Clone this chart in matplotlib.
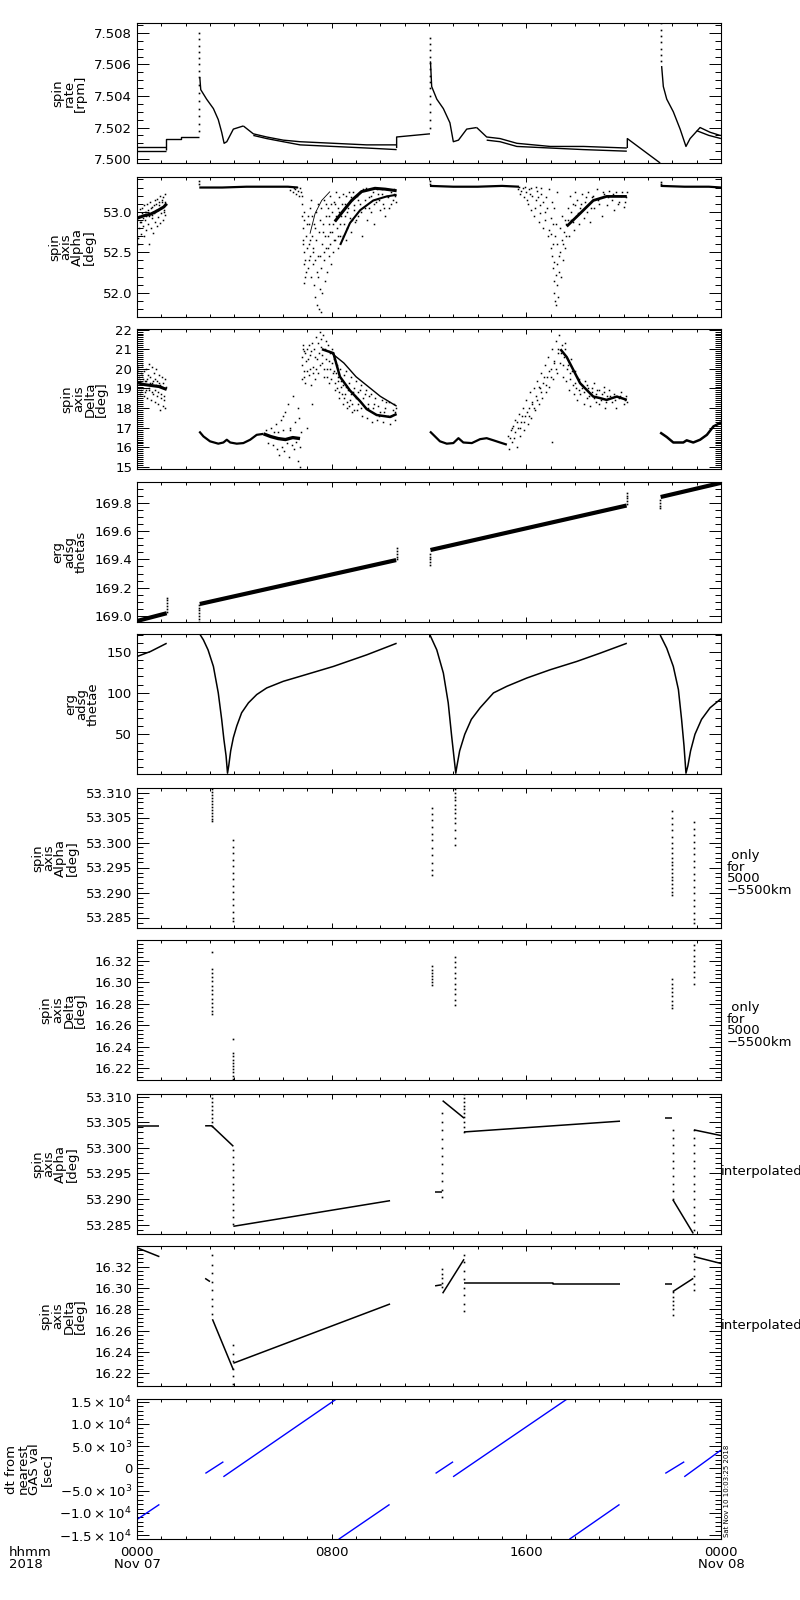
import numpy as np
import matplotlib
matplotlib.use('Agg')
import matplotlib.pyplot as plt
from matplotlib.ticker import MultipleLocator, FixedLocator, FormatStrFormatter, FuncFormatter

####################################################
### Data (time in hours from 0000 Nov 07)

# --- spin rate [rpm]
rate_t0 = [0.0, 1.18]
rate_v0a = [7.50078, 7.50078]
rate_v0b = [7.50052, 7.50052]
rate_t1 = [1.18, 1.18, 1.80, 1.80, 2.56]
rate_v1 = [7.5006, 7.5013, 7.5013, 7.5014, 7.5014]
rate_spk1_v = [7.5080, 7.5076, 7.5072, 7.5068, 7.5064, 7.5060, 7.5056, 7.5052, 7.5047,
               7.5042, 7.5037, 7.5032, 7.5027, 7.5022, 7.5018]
rate_t2 = [2.58, 2.62, 2.70, 2.86, 3.14, 3.34, 3.48, 3.58, 3.69, 3.96, 4.37]
rate_v2 = [7.5052, 7.5044, 7.5042, 7.5038, 7.5032, 7.5025, 7.5017, 7.5010, 7.5011, 7.5019, 7.5021]
rate_t2a = [4.37, 4.78, 5.33, 6.01, 6.70, 8.07, 9.44, 10.67]
rate_v2a = [7.5021, 7.5016, 7.5014, 7.5012, 7.5011, 7.5010, 7.5009, 7.5009]
rate_t2b = [4.78, 5.33, 6.01, 6.70, 8.07, 9.44, 10.67]
rate_v2b = [7.5015, 7.5013, 7.5011, 7.5009, 7.5008, 7.5007, 7.5006]
rate_t3 = [10.67, 10.67, 12.04]
rate_v3 = [7.5007, 7.5014, 7.5016]
rate_spk2_v = [7.5077, 7.5073, 7.5069, 7.5065, 7.5061, 7.5057, 7.5053, 7.5049, 7.5045,
               7.5040, 7.5035, 7.5030, 7.5025, 7.5020]
rate_t4 = [12.06, 12.11, 12.32, 12.59, 12.86, 13.0, 13.21, 13.55, 13.96]
rate_v4 = [7.5062, 7.5046, 7.5038, 7.5032, 7.5023, 7.5011, 7.5012, 7.5019, 7.5020]
rate_t4a = [13.96, 14.37, 14.92, 15.61, 16.98, 18.35, 20.13]
rate_v4a = [7.5020, 7.5014, 7.5013, 7.5010, 7.5008, 7.5008, 7.5007]
rate_t4b = [14.37, 14.92, 15.61, 16.98, 18.35, 20.13]
rate_v4b = [7.5012, 7.5011, 7.5008, 7.5007, 7.5006, 7.5005]
rate_t5 = [20.15, 20.15, 21.50]
rate_v5 = [7.5007, 7.5013, 7.49975]
rate_spk3_v = [7.5086, 7.5082, 7.5078, 7.5074, 7.5070, 7.5066, 7.5062]
rate_t6 = [21.56, 21.63, 21.77, 22.04, 22.32, 22.56, 22.73, 23.14, 23.55, 23.96, 24.0]
rate_v6 = [7.5059, 7.5046, 7.5038, 7.5030, 7.5019, 7.5008, 7.5013, 7.5020, 7.5017, 7.5015, 7.5015]
rate_t6b = [23.0, 23.5, 24.0]
rate_v6b = [7.5018, 7.5015, 7.5013]

# --- spin axis Alpha [deg]
alp_band0_t = [0.0, 0.27, 0.55, 0.82, 1.10, 1.22]
alp_band0_v = [52.92, 52.95, 52.97, 53.01, 53.06, 53.10]
alp_cloud0_t = [0.03, 0.06, 0.09, 0.12, 0.15, 0.18, 0.21, 0.24, 0.27, 0.30, 0.33, 0.36, 0.39,
                0.42, 0.45, 0.48, 0.51, 0.54, 0.57, 0.60, 0.63, 0.66, 0.69, 0.72, 0.75, 0.78,
                0.81, 0.84, 0.87, 0.90, 0.93, 0.96, 0.99, 1.02, 1.05, 1.08, 1.11, 1.14, 1.17, 1.20]
alp_cloud0_v = [52.68, 52.60, 52.80, 53.03, 52.72, 52.88, 53.05, 52.83, 52.70, 53.08, 52.90, 52.78,
                53.00, 53.10, 52.85, 52.60, 52.95, 53.12, 52.80, 52.92, 53.06, 52.74, 52.98, 53.14,
                52.88, 53.02, 52.82, 53.16, 52.94, 53.08, 52.86, 53.20, 52.98, 53.12, 52.90, 53.18,
                53.02, 53.22, 52.96, 53.10]
alp_cloud0_extra = [(0.01, 52.90), (0.07, 52.95), (0.14, 52.88), (0.20, 52.98), (0.26, 52.92),
                    (0.32, 53.00), (0.38, 52.95), (0.44, 53.02), (0.50, 52.98), (0.56, 53.05),
                    (0.62, 52.96), (0.68, 53.08), (0.74, 53.00), (0.80, 53.10), (0.86, 53.02),
                    (0.92, 53.12), (0.98, 53.05), (1.04, 53.15), (1.10, 53.00), (1.16, 53.12)]
alp_flat1_t = [2.56, 3.5, 4.5, 5.5, 6.2, 6.6]
alp_flat1_v = [53.30, 53.30, 53.31, 53.31, 53.31, 53.30]
alp_flat2_t = [12.04, 13.0, 14.0, 15.0, 15.7]
alp_flat2_v = [53.32, 53.31, 53.31, 53.32, 53.31]
alp_flat3_t = [21.52, 22.5, 23.5, 24.0]
alp_flat3_v = [53.32, 53.31, 53.31, 53.30]
alp_cloud1_t = [6.30, 6.40, 6.50, 6.55, 6.60, 6.65, 6.70, 6.75, 6.45, 6.58,
                6.78, 6.80, 6.82, 6.84, 6.86, 6.88, 6.90, 6.85, 6.92, 6.95, 6.98, 6.80, 6.88,
                7.02, 7.05, 7.08, 7.10, 7.12, 7.15, 7.18, 7.20, 7.22, 7.25, 7.28, 7.30, 7.32,
                7.35, 7.38, 7.40, 7.42, 7.45, 7.48, 7.50, 7.52, 7.55, 7.58, 7.60,
                7.62, 7.65, 7.68, 7.70, 7.72, 7.75, 7.78, 7.80, 7.83, 7.85, 7.88, 7.90, 7.93,
                7.95, 7.98, 8.00, 8.03, 8.06, 8.09, 8.12, 8.15, 8.18,
                8.22, 8.25, 8.28, 8.32, 8.36, 8.40, 8.45, 8.50, 8.55, 8.60, 8.65, 8.70, 8.75,
                8.80, 8.85, 8.90, 8.95,
                9.05, 9.10, 9.18, 9.25, 9.30, 9.38, 9.45, 9.52, 9.60, 9.68, 9.75, 9.82, 9.90,
                9.98, 10.05, 10.12, 10.20, 10.28, 10.35, 10.42, 10.50, 10.58, 10.65]
alp_cloud1_v = [53.27, 53.25, 53.28, 53.22, 53.26, 53.20, 53.29, 53.24, 53.30, 53.31,
                53.10, 52.95, 52.80, 52.65, 52.50, 52.35, 52.20, 52.12, 52.40, 52.70, 52.55, 53.20, 52.90,
                52.30, 52.60, 52.85, 52.45, 53.05, 52.20, 52.70, 52.95, 52.35, 52.55, 52.10, 52.80, 51.95,
                52.65, 52.25, 51.85, 53.10, 52.45, 51.80, 52.05, 52.90, 51.76, 52.30, 52.60,
                52.00, 52.75, 53.15, 52.40, 52.15, 52.95, 52.55, 52.25, 53.05, 52.70, 52.45, 52.85, 53.20,
                52.60, 52.35, 53.00, 52.75, 52.50, 53.12, 52.90, 52.65, 53.25,
                52.80, 53.05, 52.55, 53.18, 52.70, 52.95, 53.22, 52.85, 53.10, 52.65, 53.00, 53.25, 52.92,
                52.75, 53.15, 53.02, 52.88,
                53.20, 52.95, 53.10, 52.70, 53.28, 53.05, 52.90, 53.18, 53.00, 53.25, 52.85, 53.12, 53.22,
                53.02, 53.28, 53.10, 52.95, 53.20, 53.05, 53.25, 53.15, 53.22, 53.12]
alp_cloud1_extra = [(6.83, 52.60), (6.87, 53.00), (6.93, 52.25), (6.97, 52.85), (7.03, 52.95),
                    (7.07, 52.40), (7.13, 52.65), (7.17, 53.15), (7.23, 52.50), (7.27, 52.85),
                    (7.33, 52.40), (7.37, 53.00), (7.43, 52.20), (7.47, 52.75), (7.53, 52.45),
                    (7.57, 53.05), (7.63, 52.85), (7.67, 52.50), (7.73, 52.70), (7.77, 53.10),
                    (7.83, 52.55), (7.87, 52.95), (7.93, 52.75), (7.97, 53.10), (8.04, 52.85),
                    (8.08, 52.65), (8.14, 53.10), (8.19, 52.95), (8.24, 52.70), (8.30, 53.00),
                    (8.34, 52.85), (8.42, 53.10), (8.48, 52.70), (8.53, 52.95), (8.58, 53.20),
                    (8.63, 52.80), (8.68, 53.05), (8.78, 53.18), (8.83, 52.90), (8.88, 53.25),
                    (8.93, 53.08), (9.02, 52.90), (9.08, 53.15), (9.15, 53.24), (9.22, 53.00),
                    (9.35, 53.15), (9.42, 53.30), (9.55, 53.05), (9.63, 53.20), (9.72, 53.10),
                    (9.88, 53.28), (9.95, 53.15), (10.08, 53.22), (10.15, 53.05), (10.25, 53.28),
                    (10.32, 53.18), (10.45, 53.10), (10.55, 53.28), (10.62, 53.20)]
alp_band1_t = [8.13, 8.50, 8.82, 9.23, 9.78, 10.20, 10.67]
alp_band1_v = [52.88, 53.02, 53.14, 53.25, 53.29, 53.28, 53.26]
alp_band2_t = [8.35, 8.75, 9.17, 9.71, 10.26, 10.67]
alp_band2_v = [52.59, 52.86, 53.02, 53.14, 53.19, 53.21]
alp_band3_t = [7.11, 7.32, 7.59, 7.93]
alp_band3_v = [52.73, 52.98, 53.14, 53.25]
alp_cloud2_t = [15.65, 15.75, 15.85, 15.92, 16.00, 16.05, 16.12, 16.18, 16.25, 16.30, 16.38, 16.45,
                16.50, 16.58, 16.62, 16.70, 16.75, 16.82, 16.88, 16.92, 17.00, 17.05, 17.10, 17.15,
                17.20, 17.25, 15.70, 15.95, 16.20, 16.40, 16.60,
                17.05, 17.10, 17.12, 17.15, 17.18, 17.22, 17.25, 17.28, 17.30, 17.35, 17.38, 17.42,
                17.45, 17.50, 17.55, 17.60, 17.00, 17.65,
                17.70, 17.75, 17.80, 17.85, 17.90, 17.95, 18.00, 18.05, 18.10, 18.15, 18.20, 18.30,
                18.35, 18.40, 18.50, 18.55, 18.60, 18.70, 18.80, 18.90, 19.00, 19.10, 19.20, 19.30,
                19.40, 19.50, 19.60, 19.70, 19.80, 19.90, 20.00, 20.10, 20.15]
alp_cloud2_v = [53.28, 53.22, 53.30, 53.18, 53.25, 53.10, 53.28, 53.02, 53.20, 52.95, 53.15, 53.26,
                52.88, 53.08, 53.22, 52.80, 53.00, 53.18, 52.70, 53.28, 52.92, 53.12, 52.60, 53.05,
                52.85, 53.25, 53.31, 53.31, 53.30, 53.31, 53.30,
                52.45, 52.30, 52.15, 52.00, 51.90, 51.85, 52.10, 52.35, 51.95, 52.25, 52.50, 52.20,
                52.65, 52.40, 52.75, 52.55, 52.72, 52.85,
                53.05, 52.70, 53.20, 52.90, 53.10, 52.78, 53.25, 52.95, 53.15, 52.85, 53.05, 53.22,
                52.92, 53.12, 53.00, 53.25, 52.88, 53.18, 53.05, 53.28, 53.10, 52.95, 53.22, 53.08,
                53.26, 53.15, 53.02, 53.24, 53.12, 53.20, 53.06, 53.18, 53.25]
alp_cloud2_extra = [(15.80, 53.26), (16.02, 53.15), (16.15, 53.22), (16.35, 53.05), (16.48, 53.18),
                    (16.55, 52.98), (16.68, 53.12), (16.78, 52.90), (16.85, 53.05), (16.95, 52.78),
                    (17.02, 52.55), (17.08, 52.85), (17.13, 52.38), (17.17, 52.70), (17.20, 52.22),
                    (17.27, 52.60), (17.33, 52.45), (17.40, 52.80), (17.48, 52.95), (17.52, 52.60),
                    (17.58, 52.90), (17.63, 52.70), (17.72, 52.90), (17.82, 53.00), (17.92, 52.88),
                    (18.02, 53.08), (18.12, 52.98), (18.25, 53.10), (18.45, 53.18), (18.65, 53.05),
                    (18.75, 53.20), (18.95, 53.15), (19.15, 53.25), (19.35, 53.18), (19.55, 53.22),
                    (19.75, 53.10), (19.95, 53.25), (20.05, 53.12)]
alp_band4_t = [17.66, 18.21, 18.75, 19.30, 20.13]
alp_band4_v = [52.82, 52.98, 53.14, 53.19, 53.19]

# --- spin axis Delta [deg]
dlt_band0_t = [0.0, 0.3, 0.6, 0.9, 1.22]
dlt_band0_v = [19.30, 19.20, 19.15, 19.10, 18.95]
dlt_cloud0_t = [0.03, 0.06, 0.09, 0.12, 0.15, 0.18, 0.21, 0.24, 0.27, 0.30, 0.33, 0.36, 0.39, 0.42,
                0.45, 0.48, 0.51, 0.54, 0.57, 0.60, 0.63, 0.66, 0.69, 0.72, 0.75, 0.78, 0.81, 0.84,
                0.87, 0.90, 0.93, 0.96, 0.99, 1.02, 1.05, 1.08, 1.11, 1.14, 1.17, 1.20]
dlt_cloud0_v = [19.9, 20.1, 19.6, 18.7, 19.8, 18.9, 20.2, 19.5, 18.6, 19.9, 18.8, 20.0, 19.4, 18.5,
                19.7, 20.25, 18.9, 19.6, 18.4, 20.1, 19.3, 18.7, 19.8, 18.3, 19.5, 20.0, 18.6, 19.4,
                18.2, 19.7, 17.9, 19.2, 18.5, 19.6, 18.1, 19.3, 18.4, 19.5, 18.0, 19.1]
dlt_cloud0_extra = [(0.01, 19.5), (0.07, 19.0), (0.13, 19.4), (0.19, 19.7), (0.25, 19.0),
                    (0.31, 19.4), (0.37, 18.9), (0.43, 19.5), (0.49, 19.0), (0.55, 19.3),
                    (0.61, 18.8), (0.67, 19.4), (0.73, 18.9), (0.79, 19.2), (0.85, 18.8),
                    (0.91, 19.3), (0.97, 18.7), (1.03, 19.1), (1.09, 18.6), (1.15, 19.0)]
dlt_curve1_t = [2.56, 2.73, 3.00, 3.34, 3.55, 3.69, 3.83, 4.10, 4.37, 4.65, 4.92, 5.20]
dlt_curve1_v = [16.81, 16.56, 16.31, 16.19, 16.25, 16.39, 16.25, 16.19, 16.22, 16.39, 16.64, 16.69]
dlt_band1_t = [5.20, 5.50, 5.80, 6.10, 6.40, 6.70]
dlt_band1_v = [16.69, 16.55, 16.45, 16.40, 16.50, 16.45]
dlt_cloud1_t = [5.30, 5.40, 5.50, 5.60, 5.70, 5.75, 5.80, 5.85, 5.90, 5.95, 6.00, 6.05, 6.10, 6.15,
                6.20, 6.25, 6.30, 6.35, 6.40, 6.45, 6.50, 6.55, 6.60, 6.62, 6.65, 6.68, 6.70, 6.72,
                5.65, 6.00, 6.30]
dlt_cloud1_v = [16.9, 16.2, 17.0, 16.1, 17.2, 15.9, 16.8, 15.6, 17.4, 16.0, 17.6, 15.8, 17.8, 16.2,
                18.2, 15.5, 17.0, 16.1, 18.6, 15.9, 17.3, 16.3, 18.0, 15.3, 17.5, 16.0, 15.0, 16.8,
                16.8, 16.9, 16.9]
dlt_cloud2_t = [6.78, 6.80, 6.82, 6.85, 6.88, 6.90, 6.95, 7.00, 7.05, 7.10, 7.15, 7.20, 7.25, 7.30,
                7.35, 7.40, 7.45, 7.50, 7.55, 7.60, 7.65, 7.70, 7.75, 7.80, 7.85, 7.90, 7.95, 8.00,
                8.05, 8.10, 8.15, 8.20, 8.25, 8.30, 8.35, 8.40, 8.45, 8.50, 8.55, 8.60, 8.65, 8.70,
                8.75, 8.80, 8.85, 8.90, 8.95, 9.00, 9.05, 9.10, 9.20, 9.25, 9.30, 9.40, 9.45, 9.50,
                9.60, 9.65, 9.70, 9.80, 9.85, 9.90, 10.00, 10.05, 10.10, 10.20, 10.30, 10.35, 10.40,
                10.50, 10.55, 10.60, 10.65, 7.20, 7.00]
dlt_cloud2_v = [19.5, 20.6, 21.2, 19.9, 20.9, 19.3, 20.4, 21.0, 19.7, 20.7, 19.2, 21.3, 20.1, 19.5,
                21.6, 20.5, 19.8, 21.9, 21.1, 20.3, 21.7, 19.6, 21.4, 20.0, 21.2, 19.3, 20.8, 21.0,
                19.8, 20.5, 18.9, 20.2, 19.4, 18.5, 20.0, 19.1, 18.2, 19.7, 18.7, 19.9, 18.0, 19.3,
                18.4, 19.6, 17.8, 19.0, 18.6, 19.4, 17.9, 18.8, 19.2, 17.6, 18.5, 18.9, 17.5, 18.2,
                18.7, 17.3, 18.0, 18.5, 17.4, 18.1, 17.8, 18.4, 17.3, 18.0, 17.6, 18.3, 17.2,
                17.9, 18.2, 17.4, 18.0, 18.2, 17.0]
dlt_cloud2_extra = [(6.79, 20.2), (6.84, 21.0), (6.87, 19.6), (6.92, 20.8), (6.97, 19.9),
                    (7.02, 20.5), (7.07, 21.2), (7.12, 20.0), (7.17, 20.9), (7.22, 19.8),
                    (7.27, 21.0), (7.32, 20.6), (7.37, 20.0), (7.42, 21.3), (7.47, 20.8),
                    (7.52, 20.2), (7.57, 21.5), (7.62, 20.7), (7.67, 20.0), (7.72, 21.0),
                    (7.77, 20.5), (7.82, 19.6), (7.87, 20.4), (7.92, 20.0), (7.97, 19.5),
                    (8.02, 20.3), (8.08, 19.9), (8.12, 19.3), (8.18, 19.8), (8.22, 19.0),
                    (8.28, 19.6), (8.32, 18.8), (8.38, 19.4), (8.42, 18.7), (8.48, 19.2),
                    (8.52, 18.5), (8.58, 19.1), (8.62, 18.3), (8.68, 18.9), (8.72, 18.1),
                    (8.78, 18.7), (8.82, 18.2), (8.88, 18.8), (8.92, 17.9), (8.98, 18.5),
                    (9.08, 18.2), (9.15, 18.9), (9.22, 18.0), (9.35, 18.7), (9.48, 18.0),
                    (9.55, 18.6), (9.75, 18.2), (9.95, 17.6), (10.15, 17.8), (10.25, 18.3),
                    (10.45, 17.6), (10.62, 17.8)]
dlt_bandA_t = [7.60, 8.07, 8.34, 8.75, 9.17, 9.44, 9.85, 10.40, 10.67]
dlt_bandA_v = [21.0, 20.8, 19.6, 18.9, 18.35, 17.95, 17.65, 17.55, 17.70]
dlt_bandB_t = [7.90, 8.50, 9.00, 9.50, 10.00, 10.67]
dlt_bandB_v = [20.9, 20.3, 19.6, 19.1, 18.6, 18.1]
dlt_curve2_t = [12.04, 12.18, 12.45, 12.73, 13.00, 13.21, 13.41, 13.76, 14.10, 14.37, 14.65, 14.92, 15.20]
dlt_curve2_v = [16.81, 16.64, 16.31, 16.19, 16.22, 16.47, 16.25, 16.22, 16.42, 16.47, 16.36, 16.25, 16.14]
dlt_cloud3_t = [15.25, 15.30, 15.35, 15.40, 15.45, 15.50, 15.55, 15.60, 15.65, 15.70, 15.75, 15.80,
                15.85, 15.90, 15.95, 16.00, 16.05, 16.10, 16.15, 16.20, 16.25, 16.30, 16.35, 16.40,
                16.45, 16.50, 16.55, 16.60, 16.65, 16.70, 16.75, 16.80, 16.85, 16.90, 16.95, 17.00,
                17.05, 17.10, 17.15, 17.20, 17.25, 17.30, 17.35, 17.40, 17.45, 17.50, 17.55, 17.60,
                17.65, 17.70, 17.75, 17.80, 17.85, 17.90, 17.95, 18.00, 18.05, 18.10, 18.15, 18.20,
                18.30, 18.35, 18.40, 18.50, 18.55, 18.60, 18.70, 18.80, 18.85, 18.90, 19.00, 19.10,
                19.20, 19.25, 19.30, 19.40, 19.50, 19.60, 19.70, 19.80, 19.90, 20.00, 20.10, 20.15,
                17.05]
dlt_cloud3_v = [16.6, 15.9, 16.9, 16.3, 17.1, 16.5, 17.4, 16.0, 17.0, 17.7, 16.6, 17.3,
                18.0, 16.9, 17.6, 18.4, 17.2, 18.0, 18.8, 17.5, 18.3, 19.0, 17.9, 18.6,
                19.4, 18.2, 19.0, 19.8, 18.5, 19.3, 20.2, 18.8, 19.6, 20.6, 19.1, 20.0,
                21.0, 19.5, 20.4, 21.4, 19.8, 20.8, 21.7, 20.3, 21.2, 19.6, 20.6, 21.0,
                19.4, 20.2, 18.9, 19.8, 20.5, 19.2, 18.7, 19.9, 19.0, 18.4, 19.5, 18.7,
                19.2, 18.2, 19.4, 18.5, 19.0, 18.1, 18.8, 19.3, 18.3, 18.9, 18.2, 18.7,
                19.1, 18.0, 18.6, 18.9, 18.3, 18.7, 18.0, 18.5, 18.8, 18.2, 18.6, 18.3,
                16.3]
dlt_cloud3_extra = [(15.32, 16.5), (15.42, 17.0), (15.52, 16.8), (15.62, 17.3), (15.72, 17.0),
                    (15.82, 17.6), (15.92, 17.3), (16.02, 17.8), (16.12, 17.6), (16.22, 18.2),
                    (16.32, 18.0), (16.42, 18.4), (16.52, 19.1), (16.62, 18.8), (16.72, 19.6),
                    (16.82, 19.2), (16.92, 19.9), (17.02, 19.6), (17.12, 20.3), (17.22, 20.0),
                    (17.32, 21.0), (17.42, 20.8), (17.52, 20.2), (17.58, 21.3), (17.68, 20.0),
                    (17.78, 19.5), (17.88, 19.9), (17.98, 19.3), (18.08, 19.6), (18.18, 18.9),
                    (18.28, 19.0), (18.38, 18.8), (18.48, 19.2), (18.58, 18.6), (18.68, 19.0),
                    (18.78, 18.5), (18.88, 18.7), (18.98, 18.9), (19.08, 18.4), (19.18, 18.8),
                    (19.28, 18.3), (19.45, 18.6), (19.65, 18.4), (19.85, 18.6), (20.05, 18.4)]
dlt_bandC_t = [17.40, 17.66, 17.93, 18.21, 18.48, 18.75, 19.03, 19.30, 19.72, 20.13]
dlt_bandC_v = [21.0, 20.6, 19.95, 19.27, 18.93, 18.59, 18.51, 18.42, 18.59, 18.42]
dlt_curve3_t = [21.50, 21.77, 22.04, 22.45, 22.59, 22.86, 23.14, 23.42, 23.69, 23.96, 24.0]
dlt_curve3_v = [16.76, 16.53, 16.25, 16.25, 16.36, 16.25, 16.39, 16.64, 17.07, 17.24, 17.30]

# --- erg adsg thetas
ths_t0 = [0.0, 1.22]
ths_v0 = [168.965, 169.02]
ths_t1 = [2.58, 10.65]
ths_v1 = [169.085, 169.395]
ths_t2 = [12.06, 20.12]
ths_v2 = [169.466, 169.78]
ths_t3 = [21.52, 24.0]
ths_v3 = [169.84, 169.94]
ths_jump_t = [1.22, 2.56, 10.67, 12.04, 20.13, 21.50]
ths_jump_v = [[169.03, 169.05, 169.07, 169.09, 169.11, 169.13],
              [168.96, 168.98, 169.00, 169.02, 169.04, 169.06, 169.08],
              [169.40, 169.42, 169.44, 169.46, 169.48],
              [169.36, 169.38, 169.40, 169.42, 169.44],
              [169.79, 169.81, 169.83, 169.85, 169.87],
              [169.76, 169.78, 169.80, 169.82]]

# --- erg adsg thetae
the_t0 = [0.0, 0.55, 1.22]
the_v0 = [144.0, 150.0, 160.0]
the_t1 = [2.56, 2.73, 2.92, 3.14, 3.34, 3.48, 3.57, 3.66, 3.72, 3.77, 3.85, 3.96, 4.10, 4.30,
          4.58, 4.92, 5.33, 6.01, 6.70, 8.07, 9.44, 10.67]
the_v1 = [172.0, 164.0, 152.0, 132.0, 100.0, 68.0, 44.0, 24.0, 3.0, 12.0, 30.0, 46.0, 60.0, 76.0,
          88.0, 98.0, 106.0, 114.0, 120.0, 132.0, 146.0, 160.0]
the_t2 = [12.04, 12.32, 12.59, 12.79, 12.93, 13.02, 13.10, 13.15, 13.26, 13.47, 13.74, 14.10,
          14.65, 15.20, 16.02, 16.98, 18.07, 19.03, 20.13]
the_v2 = [170.0, 152.0, 124.0, 88.0, 48.0, 24.0, 3.0, 12.0, 30.0, 50.0, 68.0, 82.0,
          100.0, 108.0, 118.0, 128.0, 138.0, 148.0, 160.0]
the_t3 = [21.50, 21.77, 22.04, 22.25, 22.38, 22.48, 22.56, 22.64, 22.75, 22.93, 23.20, 23.55, 24.0]
the_v3 = [170.0, 154.0, 132.0, 104.0, 68.0, 36.0, 3.0, 12.0, 30.0, 50.0, 68.0, 82.0, 93.0]

# --- spin axis Alpha / Delta, 5000-5500 km only (dotted columns)
alp_k_t = [3.07, 3.96, 12.12, 13.07, 21.98, 22.89]
alp_k_v = [[53.3108, 53.3102, 53.3096, 53.3090, 53.3084, 53.3078, 53.3072, 53.3066, 53.3060,
            53.3054, 53.3048, 53.3043],
           [53.3005, 53.2992, 53.2979, 53.2966, 53.2953, 53.2940, 53.2927, 53.2914, 53.2901,
            53.2888, 53.2875, 53.2862, 53.2850, 53.2844],
           [53.3069, 53.3058, 53.3045, 53.3032, 53.3018, 53.3005, 53.2990, 53.2975, 53.2960,
            53.2945, 53.2935],
           [53.3108, 53.3100, 53.3092, 53.3085, 53.3076, 53.3068, 53.3060, 53.3050, 53.3040,
            53.3025, 53.3010, 53.2995],
           [53.3063, 53.3050, 53.3038, 53.3025, 53.3012, 53.3000, 53.2990, 53.2980, 53.2970,
            53.2962, 53.2955, 53.2948, 53.2940, 53.2932, 53.2925, 53.2918, 53.2910, 53.2902, 53.2895],
           [53.3041, 53.3028, 53.3015, 53.3002, 53.2990, 53.2977, 53.2964, 53.2951, 53.2938,
            53.2925, 53.2912, 53.2899, 53.2886, 53.2873, 53.2860, 53.2847, 53.2839]]
dlt_k_t = [3.07, 3.96, 12.12, 13.07, 22.00, 22.89]
dlt_k_v = [[16.3287, 16.313, 16.309, 16.305, 16.301, 16.297, 16.293, 16.289, 16.285, 16.281,
            16.277, 16.273, 16.271],
           [16.247, 16.234, 16.231, 16.228, 16.225, 16.222, 16.219, 16.216, 16.213, 16.210],
           [16.315, 16.312, 16.309, 16.306, 16.303, 16.300, 16.298],
           [16.324, 16.319, 16.314, 16.309, 16.304, 16.299, 16.294, 16.289, 16.284, 16.279],
           [16.303, 16.299, 16.295, 16.291, 16.287, 16.283, 16.279, 16.276],
           [16.335, 16.330, 16.325, 16.320, 16.315, 16.310, 16.305, 16.299]]

# --- spin axis Alpha, interpolated
alp_i_lines = [([0.0, 0.92], [53.3042, 53.3042]),
               ([2.80, 3.07, 3.96], [53.3043, 53.3043, 53.3003]),
               ([3.96, 10.40], [53.2847, 53.2897]),
               ([12.25, 12.52], [53.2913, 53.2913]),
               ([12.56, 13.44], [53.3092, 53.3058]),
               ([13.44, 19.85], [53.3031, 53.3052]),
               ([21.70, 21.98], [53.3058, 53.3058]),
               ([22.02, 22.86], [53.2899, 53.2833]),
               ([22.89, 24.0], [53.3035, 53.3024])]
alp_i_col_t = [3.07, 3.96, 12.52, 13.44, 22.02, 22.89]
alp_i_col_v = [[53.3105, 53.3098, 53.3090, 53.3082, 53.3074, 53.3066, 53.3058, 53.3050, 53.3043],
               [53.2995, 53.2982, 53.2969, 53.2956, 53.2943, 53.2930, 53.2917, 53.2904, 53.2891,
                53.2878, 53.2865, 53.2852],
               [53.3067, 53.3050, 53.3035, 53.3018, 53.3000, 53.2985, 53.2968, 53.2950, 53.2935,
                53.2918, 53.2905],
               [53.3105, 53.3098, 53.3090, 53.3082, 53.3075, 53.3067, 53.3060, 53.3050, 53.3040, 53.3031],
               [53.3035, 53.3020, 53.3005, 53.2990, 53.2975, 53.2960, 53.2945, 53.2930, 53.2915, 53.2900],
               [53.3035, 53.3020, 53.3005, 53.2990, 53.2975, 53.2960, 53.2945, 53.2930, 53.2915,
                53.2900, 53.2885, 53.2870, 53.2855, 53.2840]]

# --- spin axis Delta, interpolated
dlt_i_lines = [([0.0, 0.92], [16.3378, 16.3294]),
               ([2.80, 3.00], [16.309, 16.306]),
               ([3.10, 3.96], [16.2707, 16.2232]),
               ([3.96, 10.40], [16.2294, 16.285]),
               ([12.25, 12.52], [16.302, 16.303]),
               ([12.56, 13.44], [16.295, 16.327]),
               ([13.44, 17.11, 17.11, 19.85], [16.3044, 16.3044, 16.3035, 16.3035]),
               ([21.70, 21.98], [16.304, 16.304]),
               ([22.02, 22.86], [16.2966, 16.309]),
               ([22.89, 24.0], [16.3294, 16.3230])]
dlt_i_col_t = [3.07, 3.96, 12.52, 13.44, 22.02, 22.89]
dlt_i_col_v = [[16.331, 16.322, 16.314, 16.306, 16.298, 16.290, 16.283, 16.276],
               [16.2466, 16.238, 16.231, 16.224, 16.217, 16.210],
               [16.318, 16.313, 16.309, 16.305, 16.301],
               [16.331, 16.324, 16.316, 16.308, 16.300, 16.293, 16.285, 16.278],
               [16.296, 16.292, 16.288, 16.284, 16.280, 16.275],
               [16.338, 16.332, 16.325, 16.318, 16.311, 16.304, 16.298]]

# --- dt from nearest GAS val [sec]
dt_lines = [([0.0, 0.92], [-11460, -8090]),
            ([2.81, 3.55], [-1110, 1500]),
            ([3.55, 8.18], [-1870, 15540]),
            ([8.29, 10.38], [-15900, -8090]),
            ([12.27, 12.99], [-1110, 1500]),
            ([12.99, 17.66], [-1870, 15540]),
            ([17.77, 19.83], [-15900, -8090]),
            ([21.71, 22.49], [-1110, 1500]),
            ([22.49, 24.0], [-1870, 4130])]

time_ticks = [0, 8, 16, 24]
time_labels = ['0000\nNov 07', '0800', '1600', '0000\nNov 08']

####################################################
### Plot helpers

FS = 9.5
W, H = 800, 1600
panel_tops = [23, 177, 329, 482, 634, 788, 940, 1094, 1246, 1399]
PH = 140
LEFT, RIGHT = 137, 721


def line(ax, t, v, lw=1.0, color='k'):
    ax.plot(t, v, color=color, lw=lw, solid_capstyle='butt')


def dots(ax, t, v, ms=1.1, color='k'):
    ax.plot(t, v, ls='none', marker='s', ms=ms, mew=0, color=color)


def pair_dots(ax, pairs):
    t, v = zip(*pairs)
    dots(ax, t, v)


def column(ax, t, vals):
    dots(ax, [t] * len(vals), vals, ms=1.2)


def make_axis(fig, i, ylim, major, minor, fmt, ylabel):
    top = panel_tops[i]
    ax = fig.add_axes([LEFT / W, 1 - (top + PH) / H, (RIGHT - LEFT) / W, PH / H])
    ax.set_xlim(0, 24)
    ax.set_ylim(*ylim)
    ax.xaxis.set_major_locator(FixedLocator(time_ticks))
    ax.xaxis.set_minor_locator(MultipleLocator(1))
    ax.yaxis.set_major_locator(MultipleLocator(major))
    ax.yaxis.set_minor_locator(MultipleLocator(minor))
    if isinstance(fmt, str):
        ax.yaxis.set_major_formatter(FormatStrFormatter(fmt))
    else:
        ax.yaxis.set_major_formatter(FuncFormatter(fmt))
    ax.tick_params(axis='both', which='both', direction='in', top=True, right=True,
                   width=0.7, labelsize=FS, pad=3.5, color='k')
    ax.tick_params(axis='x', which='major', length=3.8)
    ax.tick_params(axis='x', which='minor', length=1.9)
    ax.tick_params(axis='y', which='major', length=8.6)
    ax.tick_params(axis='y', which='minor', length=4.3)
    ax.set_xticklabels([])
    for s in ax.spines.values():
        s.set_linewidth(0.8)
    ax.set_ylabel(ylabel, fontsize=FS, linespacing=0.85, labelpad=5)
    return ax


def dt_fmt(v, pos):
    if abs(v) < 1e-6:
        return '0'
    e = int(np.floor(np.log10(abs(v)) + 1e-9))
    m = abs(v) / 10 ** e
    sign = '-' if v < 0 else ''
    return r'$%s%.1f\times10^{%d}$' % (sign, m, e)


####################################################
### Figure

plt.rcParams['font.family'] = 'DejaVu Sans'
plt.rcParams['mathtext.fontset'] = 'dejavusans'
fig = plt.figure(figsize=(8, 16), dpi=100)

# spin rate
ax = make_axis(fig, 0, (7.49975, 7.50863), 0.002, 0.0005, '%.3f', 'spin\nrate\n[rpm]')
line(ax, rate_t0, rate_v0a)
line(ax, rate_t0, rate_v0b)
line(ax, rate_t1, rate_v1)
column(ax, 2.56, rate_spk1_v)
line(ax, rate_t2, rate_v2)
line(ax, rate_t2a, rate_v2a)
line(ax, rate_t2b, rate_v2b)
line(ax, rate_t3, rate_v3)
column(ax, 12.04, rate_spk2_v)
line(ax, rate_t4, rate_v4)
line(ax, rate_t4a, rate_v4a)
line(ax, rate_t4b, rate_v4b)
line(ax, rate_t5, rate_v5)
column(ax, 21.52, rate_spk3_v)
line(ax, rate_t6, rate_v6)
line(ax, rate_t6b, rate_v6b)

# spin axis alpha
ax = make_axis(fig, 1, (51.70, 53.43), 0.5, 0.1, '%.1f', 'spin\naxis\nAlpha\n[deg]')
line(ax, alp_band0_t, alp_band0_v, lw=2.2)
dots(ax, alp_cloud0_t, alp_cloud0_v)
pair_dots(ax, alp_cloud0_extra)
for t, v in [(alp_flat1_t, alp_flat1_v), (alp_flat2_t, alp_flat2_v), (alp_flat3_t, alp_flat3_v)]:
    line(ax, t, v, lw=1.6)
column(ax, 2.56, [53.38, 53.34])
column(ax, 12.04, [53.38, 53.34])
column(ax, 21.52, [53.37, 53.34])
dots(ax, alp_cloud1_t, alp_cloud1_v)
pair_dots(ax, alp_cloud1_extra)
line(ax, alp_band1_t, alp_band1_v, lw=2.2)
line(ax, alp_band2_t, alp_band2_v, lw=1.5)
line(ax, alp_band3_t, alp_band3_v, lw=0.6)
dots(ax, alp_cloud2_t, alp_cloud2_v)
pair_dots(ax, alp_cloud2_extra)
line(ax, alp_band4_t, alp_band4_v, lw=2.0)

# spin axis delta
ax = make_axis(fig, 2, (14.90, 22.03), 1, 0.1, '%d', 'spin\naxis\nDelta\n[deg]')
line(ax, dlt_band0_t, dlt_band0_v, lw=2.2)
dots(ax, dlt_cloud0_t, dlt_cloud0_v)
pair_dots(ax, dlt_cloud0_extra)
line(ax, dlt_curve1_t, dlt_curve1_v, lw=1.6)
line(ax, dlt_band1_t, dlt_band1_v, lw=2.4)
dots(ax, dlt_cloud1_t, dlt_cloud1_v)
dots(ax, dlt_cloud2_t, dlt_cloud2_v)
pair_dots(ax, dlt_cloud2_extra)
line(ax, dlt_bandA_t, dlt_bandA_v, lw=1.8)
line(ax, dlt_bandB_t, dlt_bandB_v, lw=1.0)
line(ax, dlt_curve2_t, dlt_curve2_v, lw=1.6)
dots(ax, dlt_cloud3_t, dlt_cloud3_v)
pair_dots(ax, dlt_cloud3_extra)
line(ax, dlt_bandC_t, dlt_bandC_v, lw=1.8)
line(ax, dlt_curve3_t, dlt_curve3_v, lw=1.8)

# erg adsg thetas
ax = make_axis(fig, 3, (168.958, 169.946), 0.2, 0.05, '%.1f', 'erg\nadsg\nthetas')
for t, v in [(ths_t0, ths_v0), (ths_t1, ths_v1), (ths_t2, ths_v2), (ths_t3, ths_v3)]:
    line(ax, t, v, lw=3.0)
for t, vals in zip(ths_jump_t, ths_jump_v):
    column(ax, t, vals)

# erg adsg thetae
ax = make_axis(fig, 4, (2.0, 171.2), 50, 10, '%d', 'erg\nadsg\nthetae')
for t, v in [(the_t0, the_v0), (the_t1, the_v1), (the_t2, the_v2), (the_t3, the_v3)]:
    line(ax, t, v, lw=1.1)

# 5000-5500 km only
ax = make_axis(fig, 5, (53.2829, 53.3109), 0.005, 0.001, '%.3f', 'spin\naxis\nAlpha\n[deg]')
for t, vals in zip(alp_k_t, alp_k_v):
    column(ax, t, vals)
ax = make_axis(fig, 6, (16.209, 16.3396), 0.02, 0.004, '%.2f', 'spin\naxis\nDelta\n[deg]')
for t, vals in zip(dlt_k_t, dlt_k_v):
    column(ax, t, vals)

# interpolated
ax = make_axis(fig, 7, (53.2832, 53.3105), 0.005, 0.001, '%.3f', 'spin\naxis\nAlpha\n[deg]')
for t, v in alp_i_lines:
    line(ax, t, v, lw=1.1)
for t, vals in zip(alp_i_col_t, alp_i_col_v):
    column(ax, t, vals)
ax = make_axis(fig, 8, (16.208, 16.3394), 0.02, 0.004, '%.2f', 'spin\naxis\nDelta\n[deg]')
for t, v in dlt_i_lines:
    line(ax, t, v, lw=1.1)
for t, vals in zip(dlt_i_col_t, dlt_i_col_v):
    column(ax, t, vals)

# dt from nearest GAS val
ax = make_axis(fig, 9, (-15850, 15600), 5000, 1000, dt_fmt, 'dt from\nnearest\nGAS val\n[sec]')
for t, v in dt_lines:
    line(ax, t, v, lw=1.0, color='#0000ff')
ax.set_xticklabels(time_labels)
for lbl in ax.get_xticklabels():
    lbl.set_linespacing(0.9)
ax.tick_params(axis='x', which='major', pad=5)

# side texts
fig.text(727 / W, 1 - 873 / H, ' only\nfor\n5000\n\u22125500km', ha='left', va='center',
         fontsize=FS, linespacing=0.85)
fig.text(727 / W, 1 - 1025 / H, ' only\nfor\n5000\n\u22125500km', ha='left', va='center',
         fontsize=FS, linespacing=0.85)
fig.text(721 / W, 1 - 1172 / H, 'interpolated', ha='left', va='center', fontsize=FS)
fig.text(721 / W, 1 - 1325 / H, 'interpolated', ha='left', va='center', fontsize=FS)
fig.text(9 / W, 1 - 1546 / H, 'hhmm\n2018', ha='left', va='top', fontsize=FS, linespacing=0.9)
fig.text(724 / W, 1 - 1537 / H, 'Sat Nov 10 10:03:25 2018', rotation=90, ha='left',
         va='bottom', fontsize=5)

fig.savefig('out.png', dpi=100)
